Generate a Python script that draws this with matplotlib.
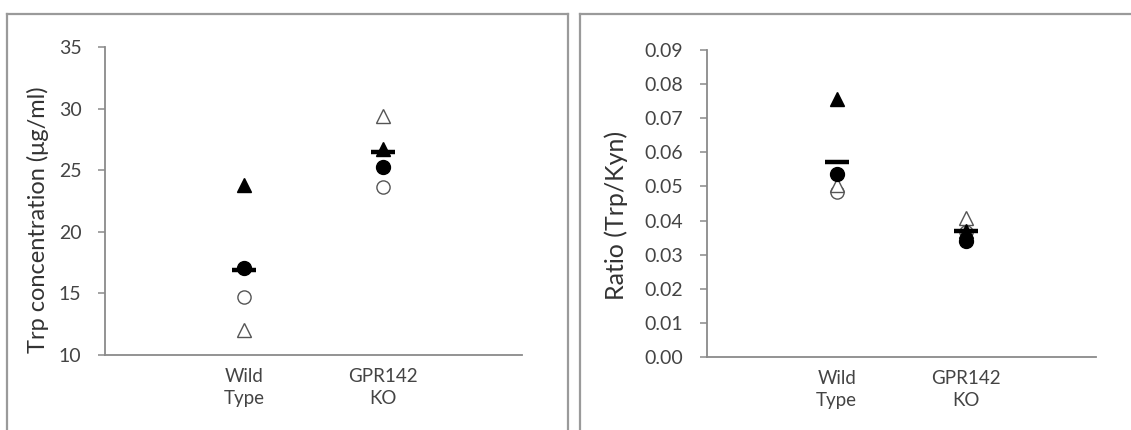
import matplotlib
matplotlib.use("Agg")
import matplotlib.pyplot as plt
from matplotlib.lines import Line2D

plt.rcParams['font.family'] = ['Lato', 'DejaVu Sans']

groups = ['Wild\nType', 'GPR142\nKO']

# Trp concentration (ug/ml)
trp_filled_tri = [23.8, 26.7]
trp_filled_circ = [17.1, 25.3]
trp_open_circ = [14.7, 23.6]
trp_open_tri = [12.0, 29.4]
trp_mean = [16.9, 26.5]
trp_ticks = [10, 15, 20, 25, 30, 35]

# Ratio (Trp/Kyn)
ratio_filled_tri = [0.0757, 0.0368]
ratio_filled_circ = [0.0537, 0.0339]
ratio_open_circ = [0.0483, 0.0365]
ratio_open_tri = [0.0505, 0.0407]
ratio_mean = [0.0573, 0.0368]
ratio_ticks = [0.00, 0.01, 0.02, 0.03, 0.04, 0.05, 0.06, 0.07, 0.08, 0.09]

W, H = 1131, 430
fig = plt.figure(figsize=(W / 100, H / 100), dpi=100)

AX_COL = '#8a8a8a'
TXT_COL = '#444444'


def px_rect(x0, x1, ytop, ybot):
    return [x0 / W, 1 - ybot / H, (x1 - x0) / W, (ybot - ytop) / H]


def draw(ax, ft, fc, oc, ot, mean, ticks, ylim, fmt):
    x = [1, 2]
    ax.plot(x, oc, linestyle='none', marker='o', ms=9.5, mfc='white',
            mec='#555555', mew=1.0, zorder=3)
    ax.plot(x, ot, linestyle='none', marker='^', ms=10, mfc='white',
            mec='#555555', mew=1.0, zorder=3)
    ax.plot(x, fc, linestyle='none', marker='o', ms=10, mfc='black',
            mec='black', zorder=4)
    ax.plot(x, ft, linestyle='none', marker='^', ms=10.5, mfc='black',
            mec='black', zorder=4)
    ax.plot(x, mean, linestyle='none', marker='_', ms=17, mew=3.2,
            color='black', zorder=5)
    ax.set_xlim(0, 3)
    ax.set_ylim(*ylim)
    ax.set_yticks(ticks)
    ax.set_yticklabels([fmt.format(t) for t in ticks])
    ax.set_xticks(x)
    ax.set_xticklabels(groups, linespacing=1.38)
    for s in ['top', 'right']:
        ax.spines[s].set_visible(False)
    for s in ['left', 'bottom']:
        ax.spines[s].set_color(AX_COL)
        ax.spines[s].set_linewidth(1.3)
    ax.tick_params(axis='y', direction='out', length=5, width=1.1,
                   color=AX_COL, labelsize=14, labelcolor=TXT_COL, pad=12)
    ax.tick_params(axis='x', length=0, labelsize=13.5, labelcolor=TXT_COL, pad=9)
    ax.patch.set_alpha(0)


ax1 = fig.add_axes(px_rect(105, 522, 47, 355))
draw(ax1, trp_filled_tri, trp_filled_circ, trp_open_circ, trp_open_tri,
     trp_mean, trp_ticks, (10, 35), '{:.0f}')

ax2 = fig.add_axes(px_rect(707, 1096, 50, 357))
draw(ax2, ratio_filled_tri, ratio_filled_circ, ratio_open_circ, ratio_open_tri,
     ratio_mean, ratio_ticks, (0, 0.09), '{:.2f}')

fig.text(38 / W, 1 - 220 / H, 'Trp concentration (\u03bcg/ml)', rotation=90,
         ha='center', va='center', fontsize=17, color='#333333')
fig.text(616 / W, 1 - 215 / H, 'Ratio (Trp/Kyn)', rotation=90,
         ha='center', va='center', fontsize=18, color='#333333')

# panel frames
FR = '#9a9a9a'
def fline(xs, ys):
    fig.add_artist(Line2D([v / W for v in xs], [1 - v / H for v in ys],
                          color=FR, lw=1.6))

fline([7, 568], [14, 14])
fline([7, 7], [14, 430])
fline([568, 568], [14, 430])
fline([580, 1131], [14, 14])
fline([580, 580], [14, 430])

fig.savefig('out.png', dpi=100, facecolor='white')
